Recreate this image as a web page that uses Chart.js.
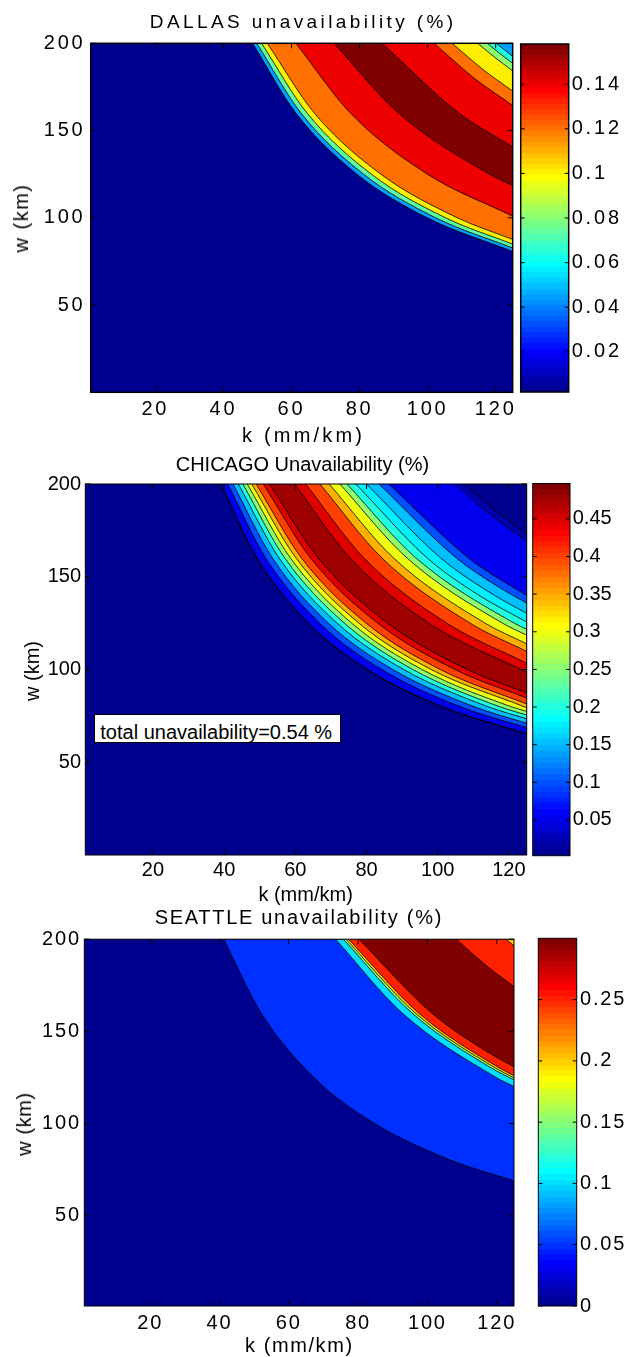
<!DOCTYPE html>
<html>
<head>
<meta charset="utf-8">
<script src="https://cdn.jsdelivr.net/npm/chart.js@4.4.1/dist/chart.umd.min.js"></script>
<style>
  html, body { margin:0; padding:0; background:#ffffff; }
  body { position:relative; width:626px; height:1357px; overflow:hidden; font-family:"Liberation Sans", Arial, Helvetica, sans-serif; }
  canvas { position:absolute; }
  .txt { position:absolute; white-space:nowrap; color:#000; }
  .note { position:absolute; background:#fff; border:1px solid #000; box-sizing:border-box; white-space:nowrap; color:#000; }
</style>
</head>
<body>
<script>
// ================= DATA =================
const kTicks = [20, 40, 60, 80, 100, 120];
const wTicks = [50, 100, 150, 200];
const kRange = [1, 125];
const wTop = 200;

// DALLAS
const dallasRange = [0.002, 0.158];
const dallasBarTicks = [0.02, 0.04, 0.06, 0.08, 0.1, 0.12, 0.14];
const dallasLevels = [0.045, 0.075, 0.1, 0.12, 0.14, 0.156, 0.14, 0.12, 0.1, 0.08, 0.065, 0.045];
const dallasEdges = [
  [[48.6,200],[61.3,160],[79.24,125],[99.92,100],[125,80.75]],
  [[49.8,200],[62.81,160],[81.19,125],[102.39,100],[125,82.67]],
  [[51.2,200],[64.58,160],[83.48,125],[105.27,100],[125,84.9]],
  [[52.9,200],[66.72,160],[86.25,125],[108.76,100],[125,87.6]],
  [[61.3,200],[77.32,160],[99.94,125],[125,100.9]],
  [[72.5,200],[91.44,160],[118.2,125],[125,118.55]],
  [[86.6,200],[109.2,160],[125,140.6]],
  [[101.9,200],[113.7,180],[125,164.4]],
  [[107.2,200],[116.25,185],[125,172.6]],
  [[114.75,200],[119.7,192],[125,184.2]],
  [[117.5,200],[121.3,194],[125,188.5]],
  [[120.1,200],[125,192.5]]
];

// CHICAGO
const chicagoRange = [0.0025, 0.497];
const chicagoBarTicks = [0.05, 0.1, 0.15, 0.2, 0.25, 0.3, 0.35, 0.4, 0.45];
const chicagoLevels = [0.025, 0.05, 0.1, 0.15, 0.2, 0.25, 0.3, 0.35, 0.4, 0.45, 0.475,
                       0.45, 0.4, 0.35, 0.3, 0.25, 0.2, 0.175, 0.15, 0.1, 0.05, 0.025, 0.0025];
const chicagoEdges = [
  [[38.9,200],[49.06,160],[63.42,125],[79.98,100],[100.85,80],[125,65.22]],
  [[39.1,200],[49.32,160],[63.75,125],[80.39,100],[101.37,80],[125,65.55]],
  [[41.0,200],[51.71,160],[66.85,125],[84.3,100],[106.29,80],[125,68.59]],
  [[42.5,200],[53.6,160],[69.29,125],[87.38,100],[110.18,80],[125,71.0]],
  [[44.0,200],[55.5,160],[71.74,125],[90.46,100],[114.07,80],[125,73.4]],
  [[45.25,200],[57.07,160],[73.78,125],[93.03,100],[117.31,80],[125,75.41]],
  [[46.5,200],[58.65,160],[75.81,125],[95.6,100],[120.55,80],[125,77.4]],
  [[47.75,200],[60.23,160],[77.85,125],[98.17,100],[125,79.4]],
  [[49.0,200],[61.8,160],[79.89,125],[100.74,100],[125,81.39]],
  [[51.0,200],[64.32,160],[83.15,125],[104.86,100],[125,84.57]],
  [[52.7,200],[66.47,160],[85.92,125],[108.35,100],[125,87.28]],
  [[59.8,200],[75.42,160],[97.5,125],[125,98.5]],
  [[62.9,200],[79.33,160],[102.55,125],[125,103.4]],
  [[66.9,200],[84.38,160],[109.07,125],[125,109.75]],
  [[69.5,200],[87.66,160],[113.31,125],[125,113.85]],
  [[72.5,200],[91.44,160],[118.2,125],[125,118.55]],
  [[74.5,200],[93.96,160],[121.46,125],[125,121.7]],
  [[77.0,200],[97.12,160],[111.58,140],[125,125.6]],
  [[80.0,200],[100.9,160],[115.93,140],[125,130.3]],
  [[83.5,200],[105.32,160],[116.67,145],[125,135.8]],
  [[86.2,200],[108.72,160],[116.27,150],[125,140.0]],
  [[105.0,200],[113.87,185],[125,169.2]],
  [[107.5,200],[116.58,185],[125,173.0]]
];
const chicagoNote = 'total unavailability=0.54 %';

// SEATTLE
const seattleRange = [0, 0.3];
const seattleBarTicks = [0, 0.05, 0.1, 0.15, 0.2, 0.25];
const seattleLevels = [0.05, 0.1, 0.15, 0.2, 0.25, 0.3, 0.25, 0.2];
const seattleEdges = [
  [[41.25,200],[52.03,160],[67.25,125],[84.81,100],[106.94,80],[125,68.99]],
  [[73.5,200],[92.7,160],[119.83,125],[125,120.1]],
  [[75.75,200],[95.54,160],[118.57,130],[125,123.65]],
  [[76.5,200],[96.49,160],[119.74,130],[125,124.8]],
  [[77.25,200],[97.43,160],[120.91,130],[125,126.0]],
  [[80.25,200],[101.22,160],[116.3,140],[125,130.7]],
  [[108.3,200],[117.44,185],[125,174.3]],
  [[122.7,200],[125,196.5]]
];

// ================= STYLE / LAYOUT =================
const FONT = '"Liberation Sans", Arial, Helvetica, sans-serif';

function jet(j) {
  const r = j < 25 ? 0 : j <= 40 ? (j - 24) / 16 : j <= 55 ? 1 : (16 - (j - 56)) / 16;
  const g = j < 9 ? 0 : j <= 24 ? (j - 8) / 16 : j <= 39 ? 1 : j <= 55 ? (16 - (j - 40)) / 16 : 0;
  const b = j <= 8 ? (j + 8) / 16 : j <= 23 ? 1 : j <= 39 ? (16 - (j - 24)) / 16 : 0;
  return 'rgb(' + Math.round(r * 255) + ',' + Math.round(g * 255) + ',' + Math.round(b * 255) + ')';
}
function colorOf(v, range) {
  const i = Math.floor((v - range[0]) / (range[1] - range[0]) * 64) + 1;
  return jet(Math.max(1, Math.min(64, i)));
}

const framePlugin = {
  id: 'frame',
  beforeDatasetsDraw(chart, args, o) {
    if (!o.bg) return;
    const a = chart.chartArea, c = chart.ctx;
    c.save(); c.fillStyle = o.bg; c.fillRect(a.left, a.top, a.right - a.left, a.bottom - a.top); c.restore();
  },
  afterDatasetsDraw(chart, args, o) {
    const a = chart.chartArea, c = chart.ctx, L = o.len || 5;
    c.save();
    c.strokeStyle = '#000'; c.lineWidth = 1;
    c.beginPath();
    (o.xTicks || []).forEach(v => {
      const p = chart.scales.x.getPixelForValue(v);
      c.moveTo(p, a.bottom); c.lineTo(p, a.bottom - L);
      c.moveTo(p, a.top); c.lineTo(p, a.top + L);
    });
    (o.yTicks || []).forEach(v => {
      const p = chart.scales.y.getPixelForValue(v);
      c.moveTo(a.left, p); c.lineTo(a.left + L, p);
      c.moveTo(a.right, p); c.lineTo(a.right - L, p);
    });
    c.stroke();
    c.lineWidth = o.border || 1;
    c.strokeRect(a.left, a.top, a.right - a.left, a.bottom - a.top);
    c.restore();
  }
};
const spacingPlugin = {
  id: 'ls',
  beforeLayout(chart, args, o) { chart.ctx.letterSpacing = (o.px || 0) + 'px'; },
  beforeDraw(chart, args, o) { chart.ctx.letterSpacing = (o.px || 0) + 'px'; }
};

function makeCanvas(left, top, W, H) {
  const cv = document.createElement('canvas');
  cv.width = W; cv.height = H;
  cv.style.left = left + 'px'; cv.style.top = top + 'px';
  cv.style.width = W + 'px'; cv.style.height = H + 'px';
  document.body.appendChild(cv);
  return cv;
}

function buildMain(g, edges, levels, range) {
  const top = Math.floor(g.T) - 20;
  const W = Math.ceil(g.R) + 20, H = Math.ceil(g.B) + 50 - top;
  const cv = makeCanvas(0, top, W, H);
  const datasets = edges.map((pts, i) => ({
    data: pts.map(p => ({ x: p[0], y: p[1] })),
    borderColor: '#000',
    borderWidth: 0.8,
    pointRadius: 0,
    fill: 'end',
    backgroundColor: colorOf(levels[i], range),
    cubicInterpolationMode: 'monotone'
  })).reverse();
  const tickFont = { family: FONT, size: 20 };
  new Chart(cv, {
    type: 'line',
    data: { datasets },
    plugins: [framePlugin, spacingPlugin],
    options: {
      responsive: false, animation: false, events: [],
      layout: { padding: { left: g.L - 60, top: g.T - top, right: W - g.R, bottom: H - (g.B - top) - 40 } },
      plugins: {
        legend: { display: false }, tooltip: { enabled: false },
        frame: { bg: colorOf(range[0], range), xTicks: kTicks, yTicks: wTicks, len: 5, border: g.border || 1 },
        ls: { px: g.ls }
      },
      scales: {
        x: {
          type: 'linear', min: kRange[0], max: kRange[1],
          afterBuildTicks: s => { s.ticks = kTicks.map(v => ({ value: v })); },
          afterFit: s => { s.height = 40; },
          grid: { display: false, drawTicks: false }, border: { display: false },
          ticks: { font: tickFont, color: '#000', padding: g.xPad, maxRotation: 0, autoSkip: false }
        },
        y: {
          type: 'linear', min: g.wMin, max: wTop,
          afterBuildTicks: s => { s.ticks = wTicks.map(v => ({ value: v })); },
          afterFit: s => { s.width = 60; },
          grid: { display: false, drawTicks: false }, border: { display: false },
          ticks: { font: tickFont, color: '#000', padding: g.yPad, autoSkip: false }
        }
      }
    }
  });
}

function jetGradient(chart) {
  const a = chart.chartArea;
  if (!a) return 'rgba(0,0,0,0)';
  const gr = chart.ctx.createLinearGradient(0, a.bottom, 0, a.top);
  for (let j = 1; j <= 64; j++) {
    const c = jet(j);
    gr.addColorStop((j - 1) / 64, c);
    gr.addColorStop(j / 64, c);
  }
  return gr;
}

function buildBar(g, range, ticks) {
  const left = Math.floor(g.cbL) - 5, top = Math.floor(g.cbT) - 20;
  const W = Math.ceil(g.cbR) + 65 - left, H = Math.ceil(g.cbB) + 50 - top;
  const cv = makeCanvas(left, top, W, H);
  new Chart(cv, {
    type: 'bar',
    data: { labels: [''], datasets: [{ data: [range], backgroundColor: c => jetGradient(c.chart), borderWidth: 0, barPercentage: 1, categoryPercentage: 1 }] },
    plugins: [framePlugin, spacingPlugin],
    options: {
      responsive: false, animation: false, events: [],
      layout: { padding: { left: g.cbL - left, top: g.cbT - top, right: W - (g.cbR - left) - 60, bottom: H - (g.cbB - top) } },
      plugins: { legend: { display: false }, tooltip: { enabled: false }, frame: { yTicks: ticks, len: 4, border: g.border || 1 }, ls: { px: g.ls } },
      scales: {
        x: { display: false },
        y: {
          position: 'right', min: range[0], max: range[1],
          afterBuildTicks: s => { s.ticks = ticks.map(v => ({ value: v })); },
          afterFit: s => { s.width = 60; },
          grid: { display: false, drawTicks: false }, border: { display: false },
          ticks: { callback: v => String(v), font: { family: FONT, size: 20 }, color: '#000', padding: g.cbPad, autoSkip: false }
        }
      }
    }
  });
}

function addText(str, cx, base, fs, ls) {
  const d = document.createElement('div');
  d.className = 'txt';
  d.textContent = str;
  d.style.fontSize = fs + 'px';
  d.style.lineHeight = fs + 'px';
  d.style.letterSpacing = ls + 'px';
  d.style.left = cx + 'px';
  d.style.top = (base - 0.8465 * fs) + 'px';
  d.style.transform = 'translateX(calc(-50% + ' + (ls / 2) + 'px))';
  document.body.appendChild(d);
}
function addVText(str, cx, cy, fs, ls) {
  const d = document.createElement('div');
  d.className = 'txt';
  d.textContent = str;
  d.style.fontSize = fs + 'px';
  d.style.lineHeight = fs + 'px';
  d.style.letterSpacing = ls + 'px';
  d.style.left = cx + 'px';
  d.style.top = cy + 'px';
  d.style.transform = 'translate(-50%, -50%) rotate(-90deg)';
  document.body.appendChild(d);
}

const dallasGeo = { L: 90.7, R: 512.7, T: 43.3, B: 392.3, wMin: 0, cbL: 520.7, cbR: 568.7, cbT: 44, cbB: 392, xPad: 5.2, yPad: 5.2, cbPad: 3, ls: 2.8, border: 1.5 };
const chicagoGeo = { L: 85.3, R: 526.7, T: 484, B: 855, wMin: 0, cbL: 532.7, cbR: 570, cbT: 483.5, cbB: 855.7, xPad: 3, yPad: 4.3, cbPad: 2.7, ls: 0, border: 1 };
const seattleGeo = { L: 84.3, R: 514, T: 939.2, B: 1306, wMin: 1, cbL: 538.3, cbR: 576.7, cbT: 938.3, cbB: 1306, xPad: 5, yPad: 3.5, cbPad: 3.3, ls: 1.8, border: 1 };

buildMain(dallasGeo, dallasEdges, dallasLevels, dallasRange);
buildBar(dallasGeo, dallasRange, dallasBarTicks);
buildMain(chicagoGeo, chicagoEdges, chicagoLevels, chicagoRange);
buildBar(chicagoGeo, chicagoRange, chicagoBarTicks);
buildMain(seattleGeo, seattleEdges, seattleLevels, seattleRange);
buildBar(seattleGeo, seattleRange, seattleBarTicks);

// titles and axis labels
addText('DALLAS unavailability (%)', 301.5, 28, 19, 3.4);
addText('k (mm/km)', 302, 442, 20, 3.2);
addVText('w (km)', 20.5, 218, 20, 1.5);

addText('CHICAGO Unavailability (%)', 302.4, 471, 20, 0);
addText('k (mm/km)', 305.6, 901, 20, 0);
addVText('w (km)', 32, 671, 20, 0);

addText('SEATTLE unavailability (%)', 298, 923.5, 20, 1.7);
addText('k (mm/km)', 298.5, 1352, 20, 1.6);
addVText('w (km)', 24, 1124, 20, 0.6);

// annotation box (Chicago)
const note = document.createElement('div');
note.className = 'note';
note.textContent = chicagoNote;
Object.assign(note.style, { left: '94.3px', top: '714.3px', width: '246.7px', height: '29px', fontSize: '20px', lineHeight: '20px', paddingTop: '7px', paddingLeft: '5px' });
document.body.appendChild(note);
</script>
</body>
